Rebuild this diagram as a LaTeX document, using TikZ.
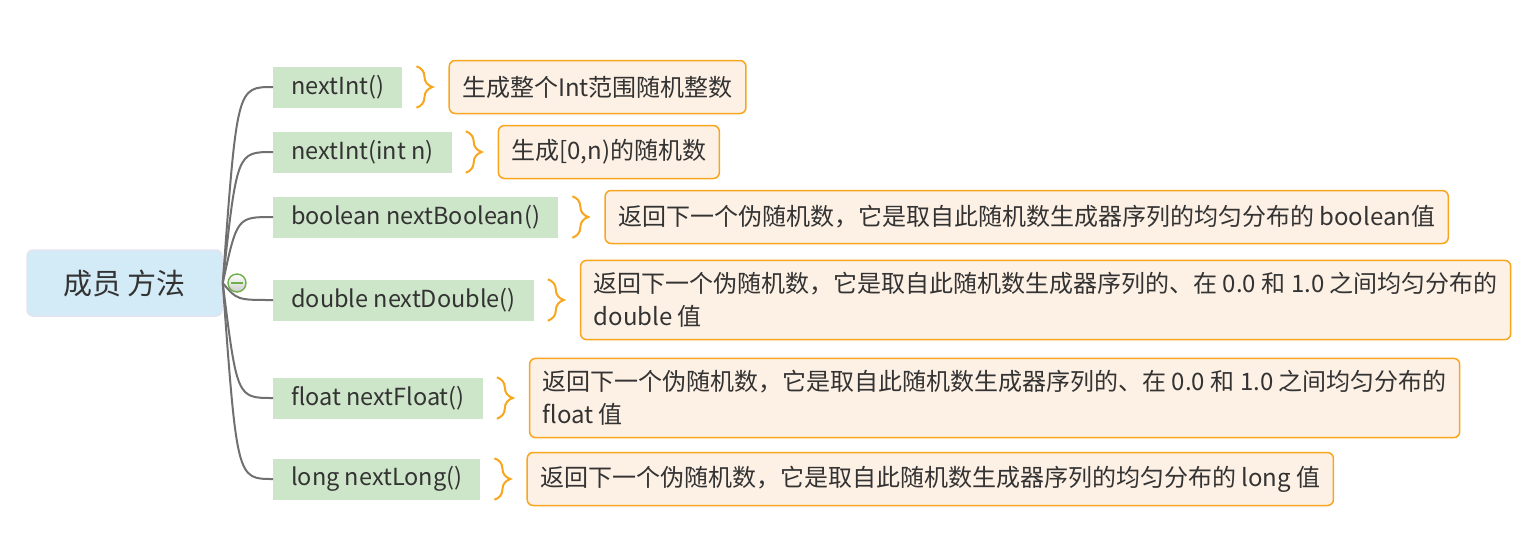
\documentclass[tikz,border=0pt]{standalone}
\usepackage{fontspec}
\setmainfont{Noto Sans CJK SC}
\usepackage{tikz}
\usetikzlibrary{positioning,decorations.pathreplacing}
\definecolor{rootblu}{RGB}{211,235,246}
\definecolor{rootedge}{RGB}{226,228,242}
\definecolor{leafgrn}{RGB}{205,229,200}
\definecolor{noteorg}{RGB}{253,240,228}
\definecolor{brc}{RGB}{247,166,30}
\definecolor{lnk}{RGB}{112,112,112}
\definecolor{ink}{RGB}{51,51,51}
\definecolor{hubgrn}{RGB}{110,175,70}

\begin{document}
\begin{tikzpicture}[x=1pt,y=1pt,
  rootbox/.style={fill=rootblu,draw=rootedge,line width=1.5pt,rounded corners=6pt,
    minimum width=195pt,minimum height=66pt,text=ink,font=\fontsize{29}{34}\selectfont},
  method/.style={fill=leafgrn,anchor=west,minimum height=41pt,inner xsep=18pt,
    text=ink,font=\fontsize{23.5}{28}\selectfont},
  note/.style={fill=noteorg,draw=brc,line width=1.5pt,rounded corners=6pt,anchor=west,
    align=left,inner xsep=13pt,inner ysep=12pt,minimum height=53pt,
    text=ink,font=\fontsize{24}{33}\selectfont},
  branch/.style={draw=lnk,line width=2pt},
  curly/.style={draw=brc,line width=2pt,decorate,decoration={brace,amplitude=16pt}},
  hubdot/.style={circle,draw=hubgrn,line width=1.4pt,minimum size=18pt,inner sep=0pt,
    top color=white,bottom color=black!20,
    path picture={\draw[hubgrn,line width=1.4pt]
      ([xshift=-6pt]path picture bounding box.center) -- ([xshift=6pt]path picture bounding box.center);}}]
  \useasboundingbox (0,0) rectangle (1538,-550);

  \node[rootbox] (root) at (124.5,-283) {成员 方法};
  \coordinate (fork) at (237,-283);

  \node[method] (m1) at (273,-87) {nextInt()};
  \node[method] (m2) at (273,-152) {nextInt(int n)};
  \node[method] (m3) at (273,-217) {boolean nextBoolean()};
  \node[method] (m4) at (273,-300) {double nextDouble()};
  \node[method] (m5) at (273,-398) {float nextFloat()};
  \node[method] (m6) at (273,-479) {long nextLong()};

  \foreach \m in {m1,m2,m3,m4,m5,m6}
    \draw[branch] (root.east) .. controls (fork |- \m.west) .. (\m.west);
  \node[hubdot] (hub) at (fork) {};

  \node[note,right=46pt of m1] (n1) {生成整个Int范围随机整数};
  \node[note,right=46pt of m2] (n2) {生成[0,n)的随机数};
  \node[note,right=46pt of m3] (n3) {返回下一个伪随机数，它是取自此随机数生成器序列的均匀分布的 boolean值};
  \node[note,right=46pt of m4] (n4) {返回下一个伪随机数，它是取自此随机数生成器序列的、在 0.0 和 1.0 之间均匀分布的\\double 值};
  \node[note,right=46pt of m5] (n5) {返回下一个伪随机数，它是取自此随机数生成器序列的、在 0.0 和 1.0 之间均匀分布的\\float 值};
  \node[note,right=46pt of m6] (n6) {返回下一个伪随机数，它是取自此随机数生成器序列的均匀分布的 long 值};

  \foreach \m in {m1,m2,m3,m4,m5,m6}
    \draw[curly] ([xshift=14pt]\m.north east) -- ([xshift=14pt]\m.south east);
\end{tikzpicture}
\end{document}
